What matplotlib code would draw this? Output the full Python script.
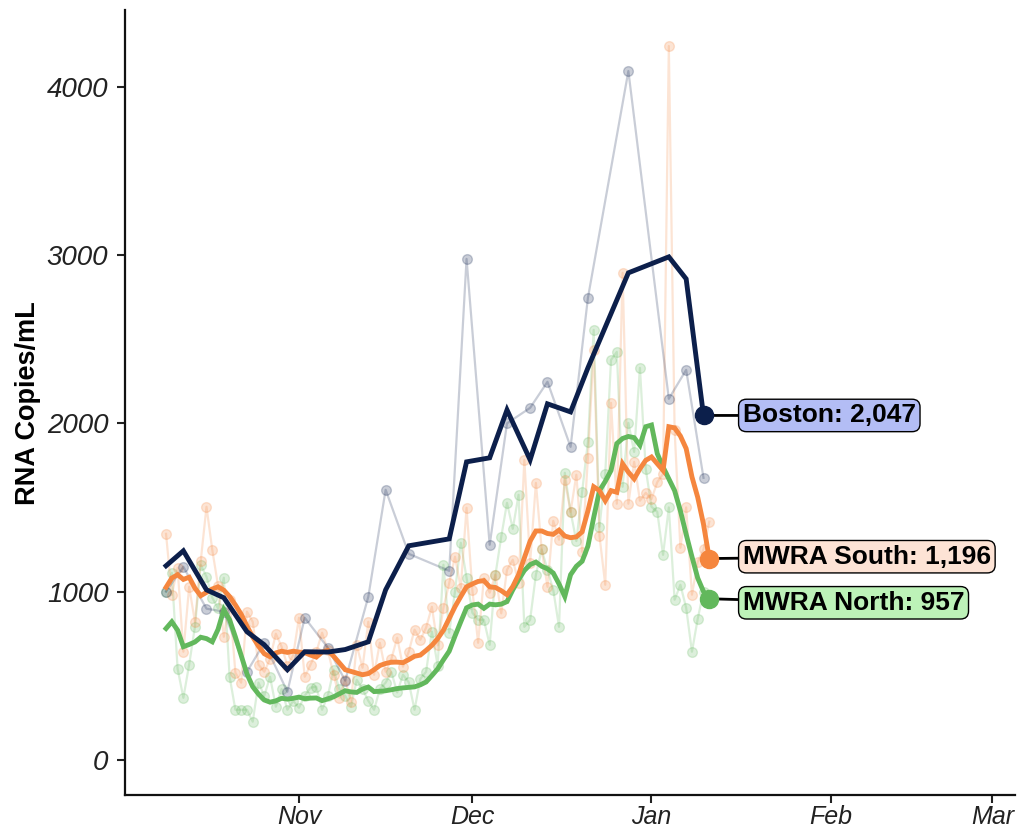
import numpy as np
import pandas as pd
import matplotlib
matplotlib.use("Agg")
import matplotlib.pyplot as plt
import matplotlib.dates as mdates

plt.rcParams['font.family'] = ['Liberation Sans', 'DejaVu Sans']

# ---------------- data ----------------
start_date = "2020-10-09"
n_days = 95

south_raw = [1343, 980, 1141, 642, 1028, 820, 1180, 1504, 1248, 1034,
             731, 951, 517, 458, 880, 820, 565, 523, 600, 749,
             672, 560, 620, 844, 493, 565, 640, 755, 650, 505,
             368, 475, 345, 680, 547, 820, 505, 695, 523, 600,
             725, 553, 642, 773, 713, 785, 909, 680, 903, 1050,
             1207, 1022, 1498, 1010, 695, 1080, 993, 1100, 870, 1129,
             1189, 1050, 1783, 1171, 1646, 1250, 1028, 1420, 1308, 1664,
             1474, 1694, 1236, 1795, 2437, 1331, 1040, 2122, 1522, 2895,
             1522, 1771, 1540, 1587, 1550, 1650, 1700, 4244, 1961, 1260,
             1500, 981, 1177, 1250, 1415]

south_avg = [1025, 1080, 1100, 1072, 1085, 1020, 975, 995, 1015, 1028,
             1008, 970, 920, 865, 795, 730, 675, 630, 612, 635,
             645, 638, 645, 640, 636, 622, 610, 640, 650, 615,
             575, 535, 525, 515, 505, 512, 535, 560, 572, 580,
             580, 577, 595, 615, 622, 650, 680, 720, 770, 840,
             910, 970, 1028, 1045, 1060, 1065, 1028, 1024, 1005, 981,
             1030, 1100, 1200, 1300, 1360, 1360, 1345, 1340, 1365, 1330,
             1320, 1325, 1355, 1480, 1623, 1600, 1540, 1600, 1590, 1760,
             1710, 1670, 1730, 1780, 1800, 1760, 1720, 1980, 1973, 1925,
             1850, 1682, 1560, 1400, 1196]

north_raw = [1000, 1111, 541, 368, 565, 790, 1159, 1088, 963, 900,
             1082, 493, 297, 297, 297, 226, 458, 380, 493, 315,
             420, 297, 350, 309, 380, 428, 434, 297, 380, 535,
             420, 380, 315, 475, 420, 350, 297, 420, 458, 520,
             400, 505, 460, 297, 480, 523, 761, 560, 1159, 755,
             1000, 1290, 1082, 874, 832, 832, 683, 1100, 1325, 1527,
             1373, 1575, 790, 832, 1100, 1250, 1129, 1010, 790, 1706,
             1474, 1300, 1593, 1890, 2556, 1385, 1700, 2377, 2425, 1623,
             2003, 1830, 2330, 1730, 1504, 1474, 1218, 1500, 951, 1040,
             903, 642, 838, 1000, 957]

north_avg = [780, 820, 770, 672, 685, 700, 728, 720, 701, 775,
             892, 832, 730, 620, 510, 434, 390, 355, 342, 350,
             365, 360, 365, 372, 363, 366, 367, 351, 362, 374,
             392, 410, 403, 400, 420, 432, 405, 407, 410, 416,
             423, 427, 430, 433, 445, 462, 500, 540, 594, 645,
             735, 820, 903, 920, 925, 900, 925, 921, 925, 940,
             1010, 1070, 1125, 1160, 1175, 1150, 1135, 1110, 1045, 970,
             1100, 1150, 1180, 1270, 1440, 1600, 1655, 1720, 1880, 1910,
             1922, 1915, 1870, 1980, 1990, 1820, 1740, 1670, 1600, 1480,
             1340, 1207, 1080, 1000, 957]

boston_day = [0, 3, 7, 10, 14, 17, 21, 24, 28, 31, 35, 38, 42,
              49, 52, 56, 59, 63, 66, 70, 73, 80, 87, 90, 93]
boston_raw = [1000, 1147, 898, 880, 523, 695, 404, 844, 666, 470, 969, 1605, 1224,
              1123, 2978, 1278, 2000, 2092, 2247, 1860, 2746, 4095, 2146, 2318, 1676]
boston_avg = [1153, 1242, 1010, 963, 761, 683, 535, 642, 640, 655, 701, 1010, 1272,
              1313, 1771, 1795, 2080, 1783, 2116, 2068, 2330, 2895, 2990, 2859, 2047]

series_names = ["Boston", "MWRA South", "MWRA North"]
label_values = [2047, 1196, 957]

y_ticks = [0, 1000, 2000, 3000, 4000]
month_ticks = ["2020-11-01", "2020-12-01", "2021-01-01", "2021-02-01", "2021-03-01"]

# ---------------- styling ----------------
navy = "#0c1f4b"
orange = "#f5863e"
green = "#62b85c"
box_fill = {"Boston": "#b3bdf5", "MWRA South": "#fde3d5", "MWRA North": "#bdf2b8"}

start = pd.Timestamp(start_date)
mwra_dates = pd.date_range(start, periods=n_days, freq="D")
boston_dates = start + pd.to_timedelta(boston_day, unit="D")

fig = plt.figure(figsize=(10.17, 8.32), dpi=100)
ax = fig.add_axes([125 / 1017, 1 - 795 / 832, (1015 - 125) / 1017, (795 - 10) / 832])

raw_kw = dict(lw=1.6, marker="o", ms=7, mew=1.0)
ax.plot(mwra_dates, north_raw, color=green, alpha=0.22, zorder=1, **raw_kw)
ax.plot(mwra_dates, south_raw, color=orange, alpha=0.22, zorder=1, **raw_kw)
ax.plot(boston_dates, boston_raw, color=navy, alpha=0.22, zorder=1.5, **raw_kw)

ax.plot(mwra_dates, north_avg, color=green, lw=3.5, zorder=3, solid_joinstyle="miter")
ax.plot(mwra_dates, south_avg, color=orange, lw=3.5, zorder=3.2, solid_joinstyle="miter")
ax.plot(boston_dates, boston_avg, color=navy, lw=3.5, zorder=3.4, solid_joinstyle="miter")

# end points and labels
ends = {
    "Boston": (boston_dates[-1], boston_avg[-1], navy),
    "MWRA South": (mwra_dates[-1], south_avg[-1], orange),
    "MWRA North": (mwra_dates[-1], north_avg[-1], green),
}
label_y = {"Boston": 2047, "MWRA South": 1207, "MWRA North": 933}
label_x = start + pd.Timedelta(days=99.8)
for name, val in zip(series_names, label_values):
    d, v, c = ends[name]
    ax.plot([d], [v], "o", color=c, ms=13, zorder=5)
    ax.annotate(f"{name}: {val:,}", xy=(d, v), xytext=(label_x, label_y[name]),
                textcoords="data", ha="left", va="center",
                fontsize=19, fontweight="bold", color="black",
                bbox=dict(boxstyle="round,pad=0.16,rounding_size=0.3", fc=box_fill[name],
                          ec="black", lw=1.0),
                arrowprops=dict(arrowstyle="-", color="black", lw=2,
                                shrinkA=0, shrinkB=0),
                zorder=4)

# axes
ax.set_xlim(start - pd.Timedelta(days=7.1), start + pd.Timedelta(days=146.9))
ax.set_ylim(-210, 4458)
ax.set_yticks(y_ticks)
ax.set_yticklabels([str(t) for t in y_ticks], fontsize=20, style="italic", color="#222222")
ax.set_xticks(pd.to_datetime(month_ticks))
ax.xaxis.set_major_formatter(mdates.DateFormatter("%b"))
for lab in ax.get_xticklabels():
    lab.set_fontsize(18)
    lab.set_style("italic")
    lab.set_color("#222222")
ax.tick_params(axis="both", length=6, width=1.5, color="#222222")
ax.tick_params(axis="y", pad=6)
ax.tick_params(axis="x", pad=1)
for s in ["top", "right"]:
    ax.spines[s].set_visible(False)
for s in ["left", "bottom"]:
    ax.spines[s].set_linewidth(1.6)
    ax.spines[s].set_color("#111111")

fig.text(28 / 1017, 1 - 403 / 832, "RNA Copies/mL", rotation=90, ha="center", va="center",
         fontsize=19.5, fontweight="bold")

fig.savefig("out.png", dpi=100)
